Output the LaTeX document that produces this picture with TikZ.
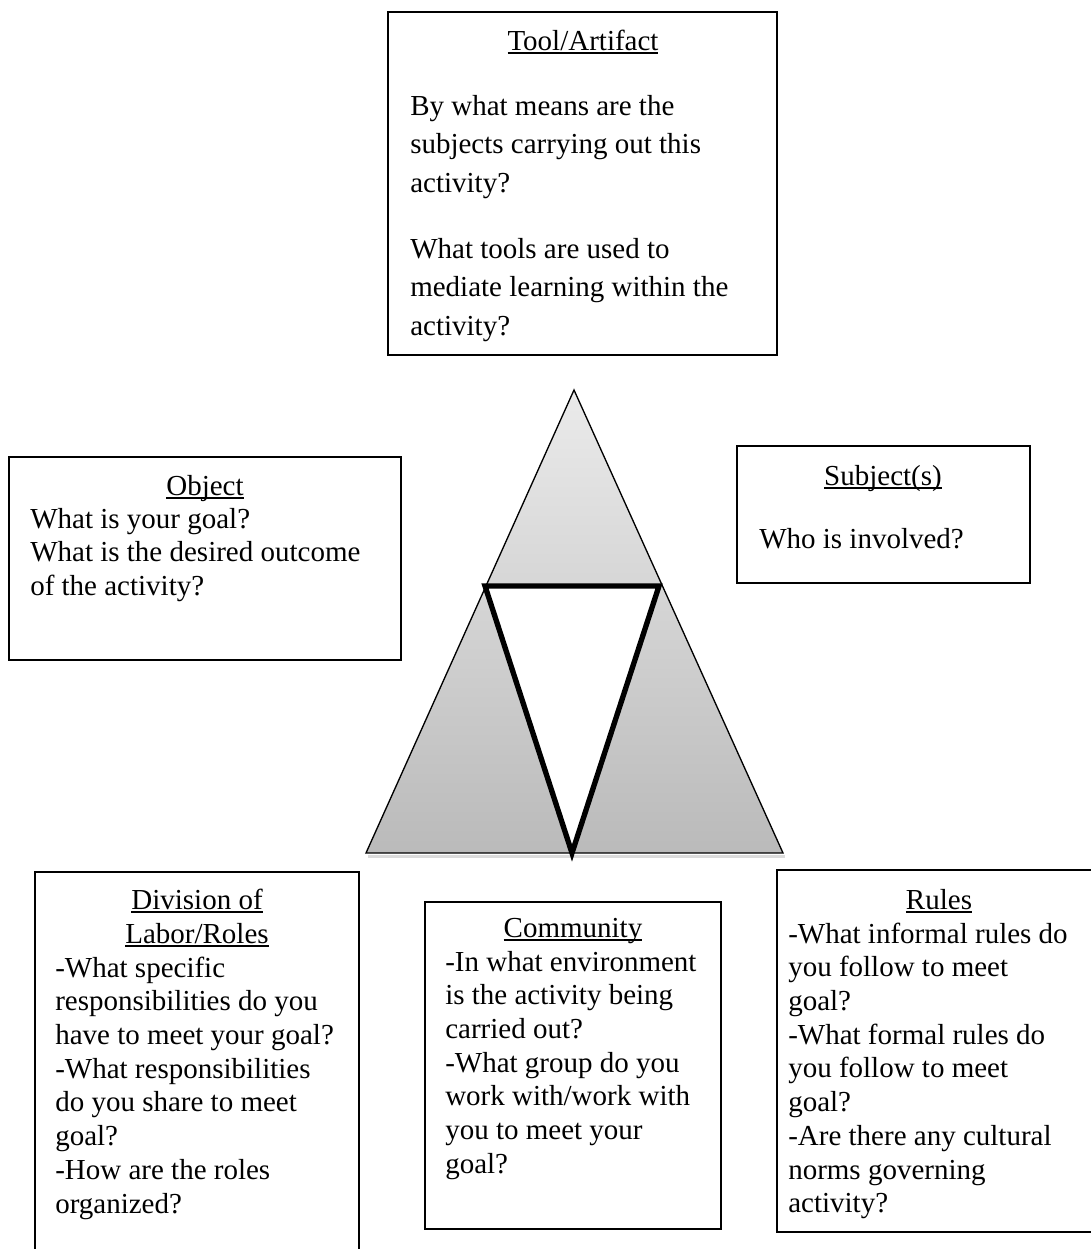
\documentclass[tikz,border=0pt]{standalone}
\usepackage{fontspec}
\setmainfont{Liberation Serif}
\usetikzlibrary{fit}
% underlined heading with a rule at a fixed depth below the baseline
\newcommand\ttl[1]{\setbox0\hbox{#1}\rlap{\rule[-2.8pt]{\wd0}{1.3pt}}\box0}
\newcommand\blk[1]{\begin{tabular}[t]{@{}l@{}}#1\end{tabular}}
\begin{document}
\begin{tikzpicture}[x=0.75pt,y=-0.75pt,
  box/.style={draw=black, line width=1.1pt, inner sep=0pt},
  heavybox/.style={box, line width=1.6pt},
  txt/.style={anchor=base west, inner sep=0pt, font=\fontsize{21.75}{25.3}\selectfont},
  tooltxt/.style={txt, font=\fontsize{21.75}{28.9}\selectfont},
  head/.style={anchor=base, inner sep=0pt, font=\fontsize{21.75}{25.3}\selectfont}]
\useasboundingbox (0,0) rectangle (1091,1249);

% ---- activity triangle ----
\coordinate (apex) at (574,390);
\coordinate (bl) at (366,853);
\coordinate (br) at (783,853);
\coordinate (il) at (485,586);
\coordinate (ir) at (659,586);
\coordinate (ib) at (572,853);
\draw[black!14, line width=2.2pt] (368,856.5) -- (785,856.5);
\shade[top color=black!8, bottom color=black!27] (apex) -- (bl) -- (br) -- cycle;
\draw[line width=1pt, line join=miter] (apex) -- (bl) -- (br) -- cycle;
\fill[white] (il) -- (ir) -- (ib) -- cycle;
\draw[line width=4pt, line join=miter] (il) -- (ir) -- (ib) -- cycle;

% ---- boxes ----
\node[box, fit={(388,12) (777,355)}] (tool) {};
\node[box, fit={(9,457) (401,660)}] (object) {};
\node[box, fit={(737,446) (1030,583)}] (subject) {};
\node[heavybox, fit={(35,872) (359,1270)}] (division) {};
\node[box, fit={(425,902) (721,1229)}] (community) {};
\node[heavybox, fit={(777,870) (1101,1232)}] (rules) {};

% ---- Tool/Artifact ----
\node[head] (toolhead) at (583,50) {\ttl{Tool/Artifact}};
\node[tooltxt] (tooltxta) at (410,115) {\blk{By what means are the\\ subjects carrying out this\\ activity?}};
\node[tooltxt] (tooltxtb) at (410,258) {\blk{What tools are used to\\ mediate learning within the\\ activity?}};

% ---- Object ----
\node[head] (objecthead) at (205,495) {\ttl{Object}};
\node[txt] (objecttxt) at (30,528) {\blk{What is your goal?\\ What is the desired outcome\\ of the activity?}};

% ---- Subject(s) ----
\node[head] (subjecthead) at (883,485) {\ttl{Subject(s)}};
\node[txt] (subjecttxt) at (759,548) {\blk{Who is involved?}};

% ---- Division of Labor/Roles ----
\node[head] (divisionhead) at (197,909) {\ttl{Division of}};
\node[head] (divisionhead2) at (197,943) {\ttl{Labor/Roles}};
\node[txt] (divisiontxt) at (55,977) {\blk{-What specific\\ responsibilities do you\\ have to meet your goal?\\ -What responsibilities\\ do you share to meet\\ goal?\\ -How are the roles\\ organized?}};

% ---- Community ----
\node[head] (communityhead) at (573,937) {\ttl{Community}};
\node[txt] (communitytxt) at (445,971) {\blk{-In what environment\\ is the activity being\\ carried out?\\ -What group do you\\ work with/work with\\ you to meet your\\ goal?}};

% ---- Rules ----
\node[head] (ruleshead) at (939,909) {\ttl{Rules}};
\node[txt] (rulestxt) at (788,943) {\blk{-What informal rules do\\ you follow to meet\\ goal?\\ -What formal rules do\\ you follow to meet\\ goal?\\ -Are there any cultural\\ norms governing\\ activity?}};
\end{tikzpicture}
\end{document}
